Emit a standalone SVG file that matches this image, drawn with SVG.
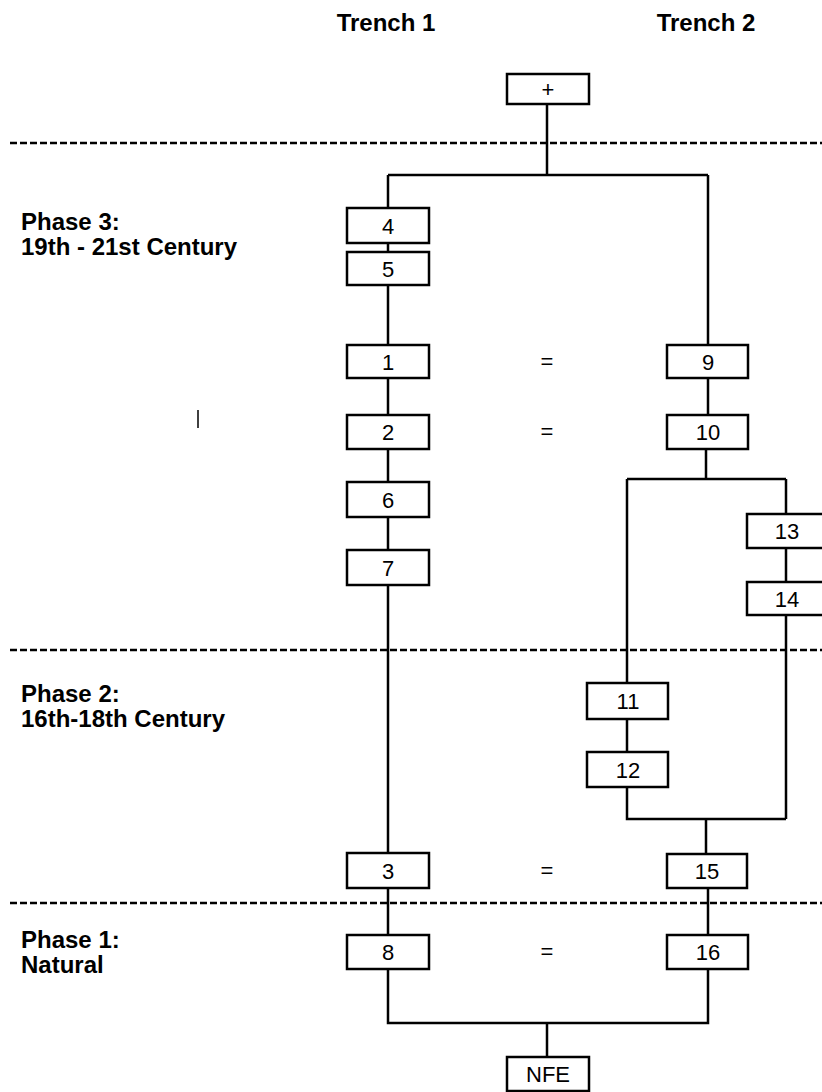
<svg xmlns="http://www.w3.org/2000/svg" width="822" height="1092" viewBox="0 0 822 1092">
<style>
.box rect{fill:#fff;stroke:#000;stroke-width:2.5}
.box text{font-family:"Liberation Sans",Arial,sans-serif;font-size:22px;text-anchor:middle;fill:#000}
.lbl{font-family:"Liberation Sans",Arial,sans-serif;font-size:24px;font-weight:bold;fill:#000}
.eq{font-family:"Liberation Sans",Arial,sans-serif;font-size:22px;text-anchor:middle;fill:#000}
.c{fill:none;stroke:#000;stroke-width:2.5}
.dash{stroke:#000;stroke-width:2.5;stroke-dasharray:7,3}
</style>
<rect width="822" height="1092" fill="#fff"/>
<g id="phases">
<line class="dash" x1="10" y1="143" x2="822" y2="143"/>
<line class="dash" x1="10" y1="650" x2="822" y2="650"/>
<line class="dash" x1="10" y1="903" x2="822" y2="903"/>
</g>
<g id="labels">
<text class="lbl" x="386" y="31" text-anchor="middle">Trench 1</text>
<text class="lbl" x="706" y="31" text-anchor="middle">Trench 2</text>
<text class="lbl" x="21" y="230">Phase 3:</text>
<text class="lbl" x="21" y="255">19th - 21st Century</text>
<text class="lbl" x="21" y="702">Phase 2:</text>
<text class="lbl" x="21" y="727">16th-18th Century</text>
<text class="lbl" x="21" y="948">Phase 1:</text>
<text class="lbl" x="21" y="973">Natural</text>
<text class="eq" x="547" y="369">=</text>
<text class="eq" x="547" y="439">=</text>
<text class="eq" x="547" y="878">=</text>
<text class="eq" x="547" y="959">=</text>
<line x1="198" y1="410" x2="198" y2="428" stroke="#000" stroke-width="1.5"/>
</g>
<g id="connectors">
<path class="c" d="M547 104V175M388 175H708M388 175V208M708 175V345"/>
<path class="c" d="M388 243V252M388 285V345M388 378V415M388 449V482M388 517V550M388 585V853M388 888V935"/>
<path class="c" d="M708 378V415M706 449V479M627 479H786M627 479V683M786 479V514M786 548V582M786 615V819M627 719V752M627 787V819H786M706 819V854M708 888V935"/>
<path class="c" d="M388 969V1023H708V969M547 1023V1057"/>
</g>
<g id="n_plus" class="box"><rect x="507" y="74" width="82" height="30"/><text x="548" y="97">+</text></g>
<g id="n4" class="box"><rect x="347" y="208" width="82" height="35"/><text x="388" y="234">4</text></g>
<g id="n5" class="box"><rect x="347" y="252" width="82" height="33"/><text x="388" y="277">5</text></g>
<g id="n1" class="box"><rect x="347" y="345" width="82" height="33"/><text x="388" y="370">1</text></g>
<g id="n2" class="box"><rect x="347" y="415" width="82" height="34"/><text x="388" y="440">2</text></g>
<g id="n6" class="box"><rect x="347" y="482" width="82" height="35"/><text x="388" y="508">6</text></g>
<g id="n7" class="box"><rect x="347" y="550" width="82" height="35"/><text x="388" y="576">7</text></g>
<g id="n3" class="box"><rect x="347" y="853" width="82" height="35"/><text x="388" y="879">3</text></g>
<g id="n8" class="box"><rect x="347" y="935" width="82" height="34"/><text x="388" y="960">8</text></g>
<g id="n9" class="box"><rect x="667" y="345" width="81" height="33"/><text x="708" y="370">9</text></g>
<g id="n10" class="box"><rect x="667" y="415" width="81" height="34"/><text x="708" y="440">10</text></g>
<g id="n13" class="box"><rect x="747" y="514" width="80" height="34"/><text x="787" y="539">13</text></g>
<g id="n14" class="box"><rect x="747" y="582" width="80" height="33"/><text x="787" y="607">14</text></g>
<g id="n11" class="box"><rect x="587" y="683" width="81" height="36"/><text x="628" y="709">11</text></g>
<g id="n12" class="box"><rect x="587" y="752" width="81" height="35"/><text x="628" y="778">12</text></g>
<g id="n15" class="box"><rect x="667" y="854" width="80" height="34"/><text x="707" y="879">15</text></g>
<g id="n16" class="box"><rect x="667" y="935" width="81" height="34"/><text x="708" y="960">16</text></g>
<g id="nNFE" class="box"><rect x="507" y="1057" width="82" height="34"/><text x="548" y="1082">NFE</text></g>
</svg>
